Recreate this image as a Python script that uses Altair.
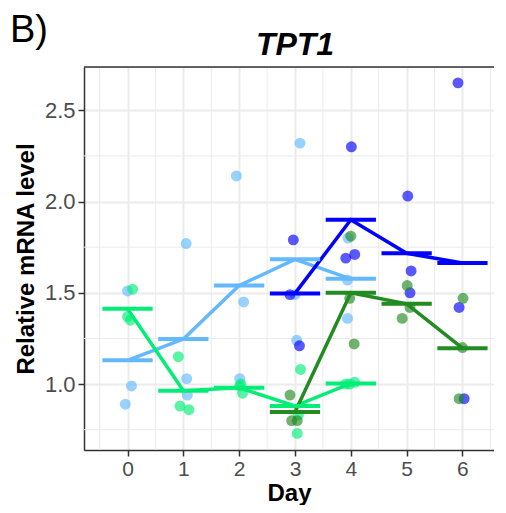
import altair as alt
import pandas as pd

# ---------------- data ----------------
series_names = ["S1", "S2", "S3", "S4"]
series_colors = ["#63B8FF", "#00EE76", "#0000FF", "#228B22"]

days_early = [0, 0, 0, 1, 1, 1, 2, 2, 2, 3, 3, 3, 4, 4, 4]
days_late = [3, 3, 3, 4, 4, 4, 5, 5, 5, 6, 6, 6]

# jittered x positions of the points
s1_x = [0.00, 0.07, -0.04, 1.05, 1.06, 1.07, 1.95, 2.08, 2.01, 3.09, 3.03, 3.00, 3.95, 3.94, 3.94]
s1_y = [1.51, 0.99, 0.89, 1.77, 1.03, 0.94, 2.14, 1.45, 1.03, 2.32, 1.24, 1.49, 1.80, 1.57, 1.36]

s2_x = [0.09, 0.00, 0.05, 0.91, 0.94, 1.10, 2.03, 2.06, 2.01, 3.10, 3.04, 3.06, 3.91, 4.07, 3.98]
s2_y = [1.52, 1.37, 1.35, 1.15, 0.88, 0.86, 1.00, 0.95, 0.99, 1.08, 0.73, 0.83, 1.00, 1.01, 1.00]

s3_x = [2.97, 2.91, 3.08, 4.01, 3.91, 4.07, 5.02, 5.08, 5.06, 5.92, 5.94, 6.03]
s3_y = [1.79, 1.49, 1.21, 2.30, 1.69, 1.71, 2.03, 1.62, 1.50, 2.65, 1.42, 0.92]

s4_x = [2.91, 2.94, 3.04, 4.00, 3.98, 4.06, 5.01, 5.06, 4.92, 6.01, 6.00, 5.94]
s4_y = [0.94, 0.80, 0.80, 1.81, 1.47, 1.22, 1.54, 1.42, 1.36, 1.47, 1.20, 0.92]

x_ticks = [0, 1, 2, 3, 4, 5, 6]
y_ticks = [1.0, 1.5, 2.0, 2.5]
x_minor = [-0.5, 0.5, 1.5, 2.5, 3.5, 4.5, 5.5, 6.5]
y_minor = [0.75, 1.25, 1.75, 2.25]

rows = []
for name, days, xs, ys in [
    ("S1", days_early, s1_x, s1_y),
    ("S2", days_early, s2_x, s2_y),
    ("S3", days_late, s3_x, s3_y),
    ("S4", days_late, s4_x, s4_y),
]:
    for d, xv, yv in zip(days, xs, ys):
        rows.append({"series": name, "day": d, "xj": xv, "value": yv})
df = pd.DataFrame(rows)

# ---------------- chart ----------------
W, H = 410, 383
FONT = "Liberation Sans"

xscale = alt.Scale(domain=[-0.78, 6.565], nice=False, zero=False)
yscale = alt.Scale(domain=[0.639, 2.737], nice=False, zero=False)

xaxis = alt.Axis(values=x_ticks, title="Day", grid=True, gridColor="#EBEBEB", gridWidth=2,
                 domainColor="#333333", domainWidth=1.5, tickColor="#333333", tickWidth=1.5,
                 tickSize=6, labelPadding=2, labelFontSize=21, labelColor="#4D4D4D",
                 labelFont=FONT, titleFont=FONT, titleFontSize=24, titleFontWeight="bold",
                 titleColor="black", titleBaseline="alphabetic", titleY=50)
yaxis = alt.Axis(values=y_ticks, format=".1f", title="Relative mRNA level", grid=True,
                 gridColor="#EBEBEB", gridWidth=2, domainColor="#333333", domainWidth=1.5,
                 tickColor="#333333", tickWidth=1.5, tickSize=6, labelPadding=3,
                 labelFontSize=22, labelColor="#4D4D4D", labelFont=FONT, titleFont=FONT,
                 titleFontSize=24, titleFontWeight="bold", titleColor="black",
                 titleBaseline="alphabetic", titleX=-51, titleY=H / 2, titleAngle=-90)

color = alt.Color("series:N", scale=alt.Scale(domain=series_names, range=series_colors), legend=None)

minor_x = alt.Chart(pd.DataFrame({"xm": x_minor})).mark_rule(color="#EBEBEB", strokeWidth=1).encode(
    x=alt.X("xm:Q", scale=xscale, axis=xaxis)
)
minor_y = alt.Chart(pd.DataFrame({"ym": y_minor})).mark_rule(color="#EBEBEB", strokeWidth=1).encode(
    y=alt.Y("ym:Q", scale=yscale, axis=yaxis)
)

points = alt.Chart(df).mark_circle(size=120, opacity=0.65).encode(
    x=alt.X("xj:Q", scale=xscale, axis=xaxis),
    y=alt.Y("value:Q", scale=yscale, axis=yaxis),
    color=color,
)

lines = alt.Chart(df).mark_line(strokeWidth=3.5).encode(
    x=alt.X("day:Q", scale=xscale, axis=xaxis),
    y=alt.Y("mean(value):Q", scale=yscale, axis=yaxis),
    color=color,
)

bars = alt.Chart(df).transform_aggregate(
    mean="mean(value)", groupby=["series", "day"]
).transform_calculate(
    x1="datum.day - 0.45", x2="datum.day + 0.45"
).mark_rule(strokeWidth=4).encode(
    x=alt.X("x1:Q", scale=xscale, axis=xaxis),
    x2="x2:Q",
    y=alt.Y("mean:Q", scale=yscale, axis=yaxis),
    color=color,
)

top_border = alt.Chart(pd.DataFrame({"a": [0]})).mark_rule(color="#333333", strokeWidth=1.5).encode(
    x=alt.value(0), x2=alt.value(W), y=alt.value(0)
)

panel_label = alt.Chart(pd.DataFrame({"t": ["B)"]})).mark_text(
    fontSize=38, font=FONT, align="left", baseline="alphabetic", color="black"
).encode(text="t:N", x=alt.value(-74), y=alt.value(-25))

title_text = alt.Chart(pd.DataFrame({"t": ["TPT1"]})).mark_text(
    fontSize=32, font=FONT, fontStyle="italic", fontWeight="bold", align="center",
    baseline="alphabetic", color="black"
).encode(text="t:N", x=alt.value(211), y=alt.value(-12))

chart = alt.layer(minor_x, minor_y, points, lines, bars, top_border, panel_label, title_text).properties(
    width=W,
    height=H,
    autosize=alt.AutoSizeParams(type="none"),
    padding={"left": 76, "top": 59, "right": 0, "bottom": 55},
).configure_view(stroke=None).configure(background="white")

chart.save("out.html", embed_options={"renderer": "svg", "actions": False})
